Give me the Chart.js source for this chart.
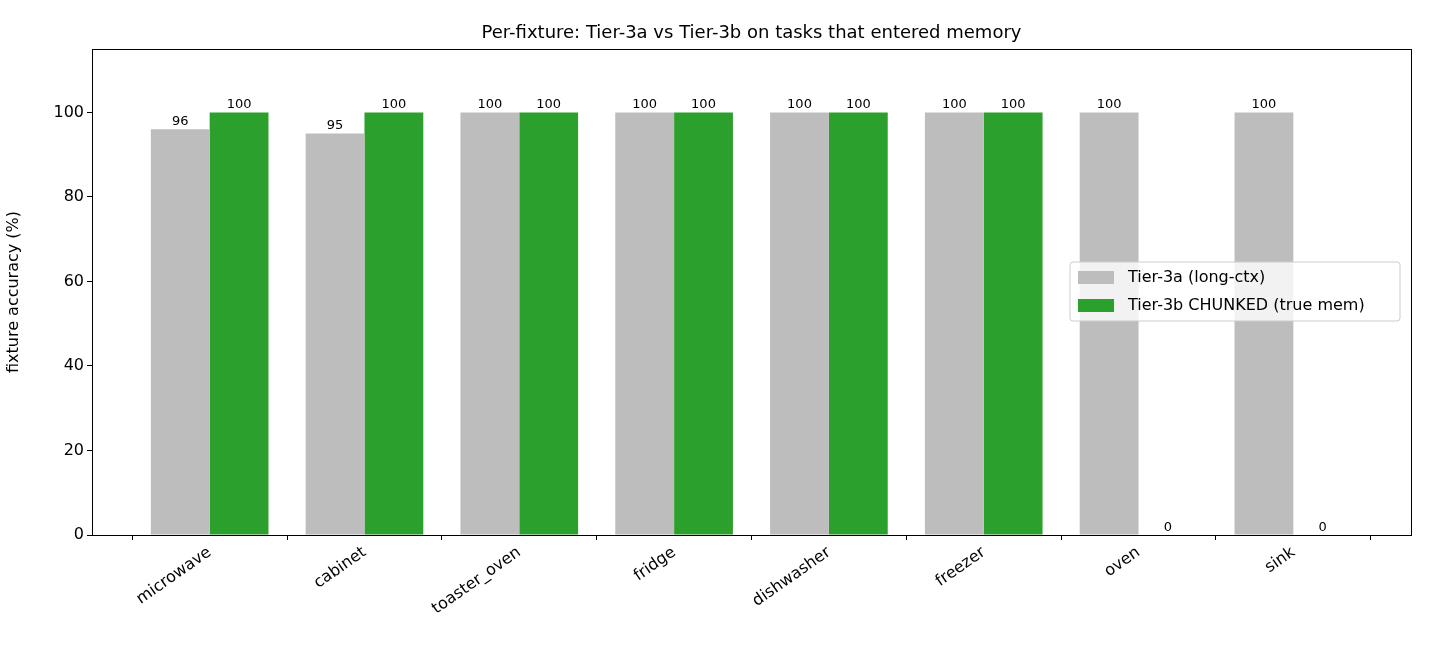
<!DOCTYPE html>
<html><head><meta charset="utf-8">
<script src="https://cdn.jsdelivr.net/npm/chart.js@4"></script>
<style>html,body{margin:0;padding:0;background:#fff}#w{width:1430px;height:650px}</style>
</head><body><div id="w"><canvas id="c"></canvas></div>
<script>
const categories=["microwave","cabinet","toaster_oven","fridge","dishwasher","freezer","oven","sink"];
const tier3a=[96,95,100,100,100,100,100,100];
const tier3b=[100,100,100,100,100,100,0,0];
const yTicks=[0,20,40,60,80,100];
const F='"DejaVu Sans", sans-serif';
const pts=a=>a.map((v,i)=>({x:i,y:v}));
const extras={id:'extras',afterDraw(ch){
 const c=ch.ctx,a=ch.chartArea;
 c.save();
 c.strokeStyle='#000';c.lineWidth=1;c.strokeRect(a.left+0.5,a.top+0.5,a.right-a.left,a.bottom-a.top);
 c.fillStyle='#000';c.font='18px '+F;c.textAlign='center';c.textBaseline='alphabetic';
 c.fillText('Per-fixture: Tier-3a vs Tier-3b on tasks that entered memory',(a.left+a.right)/2,38);
 c.font='13px '+F;c.textBaseline='bottom';
 ch.data.datasets.forEach((d,di)=>{ch.getDatasetMeta(di).data.forEach((b,i)=>{c.fillText(String(d.data[i].y),b.x,b.y-1);});});
 // legend
 const lx=1070,ly=262,lw=330,lh=59;
 c.fillStyle='rgba(255,255,255,0.8)';c.strokeStyle='#ccc';
 c.beginPath();c.roundRect(lx,ly,lw,lh,3);c.fill();c.stroke();
 c.font='16px '+F;c.textAlign='left';c.textBaseline='middle';
 [['#bdbdbd','Tier-3a (long-ctx)'],['#2ca02c','Tier-3b CHUNKED (true mem)']].forEach((e,i)=>{
  const y=ly+15+i*28;c.fillStyle=e[0];c.fillRect(lx+8,y-6,36,13);c.fillStyle='#000';c.fillText(e[1],lx+58,y+1);});
 c.restore();}};
new Chart(document.getElementById('c'),{type:'bar',
 data:{datasets:[
  {label:'Tier-3a (long-ctx)',data:pts(tier3a),backgroundColor:'#bdbdbd',categoryPercentage:0.76,barPercentage:1,grouped:true},
  {label:'Tier-3b CHUNKED (true mem)',data:pts(tier3b),backgroundColor:'#2ca02c',categoryPercentage:0.76,barPercentage:1}]},
 options:{responsive:true,maintainAspectRatio:false,animation:false,
  layout:{padding:{top:49,right:19,left:0,bottom:0}},
  plugins:{legend:{display:false},title:{display:false},tooltip:{enabled:false}},
  scales:{
   x:{type:'linear',min:-0.76,max:7.76,offset:false,
    afterBuildTicks:s=>{s.ticks=categories.map((_,i)=>({value:i}));},
    afterFit:s=>{s.height=115;},
    grid:{display:true,drawOnChartArea:false,tickLength:5,color:'#000'},border:{display:false},
    ticks:{maxRotation:35,minRotation:35,autoSkip:false,color:'#000',font:{size:16,family:F},callback:v=>categories[v]}},
   y:{min:0,max:115,afterBuildTicks:s=>{s.ticks=yTicks.map(v=>({value:v}));},
    afterFit:s=>{s.width=92;},
    title:{display:true,text:'fixture accuracy (%)',color:'#000',font:{size:16,family:F}},
    grid:{display:true,drawOnChartArea:false,tickLength:5,color:'#000'},border:{display:false},
    ticks:{color:'#000',font:{size:16,family:F}}}}},
 plugins:[extras]});
</script></body></html>
